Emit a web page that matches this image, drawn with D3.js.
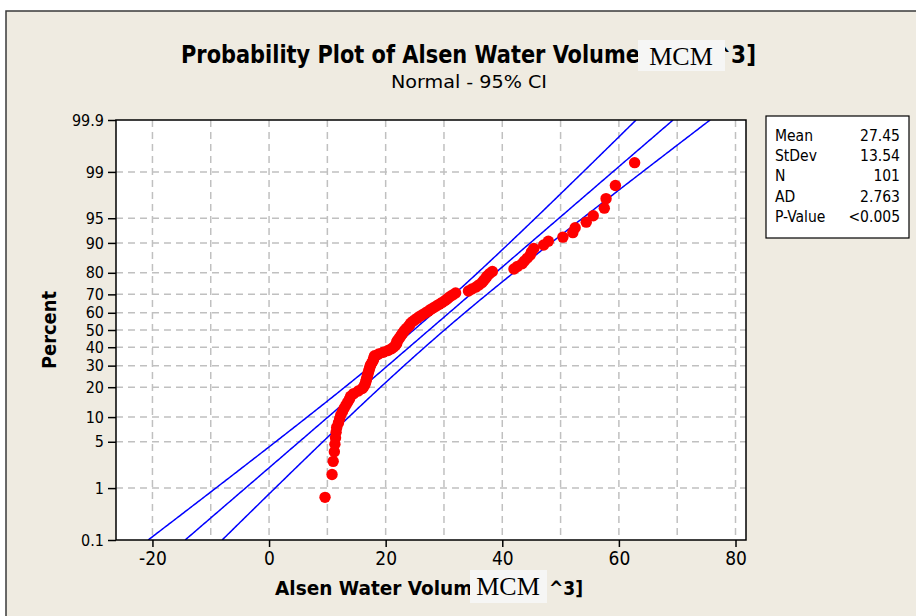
<!DOCTYPE html>
<html>
<head>
<meta charset="utf-8">
<script src="https://cdn.jsdelivr.net/npm/d3@7"></script>
<style>
body { margin: 0; background: #fff; }
svg { display: block; }
text { font-family: 'DejaVu Sans', sans-serif; font-stretch: condensed; fill: #000; }
</style>
</head>
<body>
<svg id="chart" width="916" height="616"></svg>
<script>
const volumes = [
  9.6, 10.8, 11.0, 11.2, 11.3, 11.4, 11.5, 11.6, 11.9, 12.1,
  12.3, 12.6, 12.9, 13.2, 13.5, 13.8, 14.0, 14.5, 15.3, 16.0,
  16.3, 16.5, 16.6, 16.7, 16.8, 16.9, 17.0, 17.1, 17.2, 17.3,
  17.4, 17.6, 17.8, 17.9, 18.0, 18.1, 18.8, 19.6, 20.4, 21.0,
  21.4, 21.7, 21.9, 21.9, 22.1, 22.3, 22.5, 22.7, 22.9, 23.1,
  23.3, 23.6, 23.9, 24.1, 24.3, 24.6, 25.0, 25.4, 25.8, 26.3,
  26.8, 27.3, 27.7, 28.2, 28.7, 29.2, 29.7, 30.2, 30.6, 31.0,
  31.5, 32.0, 34.2, 34.8, 35.5, 36.0, 36.5, 36.8, 37.1, 37.4,
  37.8, 38.3, 42.0, 42.6, 43.4, 43.8, 44.3, 44.8, 45.0, 45.4,
  47.1, 47.9, 50.4, 52.1, 52.5, 54.4, 55.6, 57.5, 57.8, 59.4,
  62.7
];
const xTicks = [-20, 0, 20, 40, 60, 80];
const xGrid = [-20, -10, 0, 10, 20, 30, 40, 50, 60, 70, 80];
const percentTicks = [0.1, 1, 5, 10, 20, 30, 40, 50, 60, 70, 80, 90, 95, 99, 99.9];
const statLabels = ["Mean", "StDev", "N", "AD", "P-Value"];
const statValues = ["27.45", "13.54", "101", "2.763", "<0.005"];
const mean = 27.45, stdev = 13.54, n = 101;

// inverse standard normal (Acklam)
function probit(p) {
  const a = [-39.69683028665376, 220.9460984245205, -275.9285104469687, 138.3577518672690, -30.66479806614716, 2.506628277459239];
  const b = [-54.47609879822406, 161.5858368580409, -155.6989798598866, 66.80131188771972, -13.28068155288572];
  const c = [-0.007784894002430293, -0.3223964580411365, -2.400758277161838, -2.549732539343734, 4.374664141464968, 2.938163982698783];
  const d = [0.007784695709041462, 0.3224671290700398, 2.445134137142996, 3.754408661907416];
  const pl = 0.02425;
  let q, r;
  if (p < pl) {
    q = Math.sqrt(-2 * Math.log(p));
    return (((((c[0]*q+c[1])*q+c[2])*q+c[3])*q+c[4])*q+c[5]) / ((((d[0]*q+d[1])*q+d[2])*q+d[3])*q+1);
  } else if (p <= 1 - pl) {
    q = p - 0.5; r = q * q;
    return (((((a[0]*r+a[1])*r+a[2])*r+a[3])*r+a[4])*r+a[5])*q / (((((b[0]*r+b[1])*r+b[2])*r+b[3])*r+b[4])*r+1);
  } else {
    q = Math.sqrt(-2 * Math.log(1 - p));
    return -(((((c[0]*q+c[1])*q+c[2])*q+c[3])*q+c[4])*q+c[5]) / ((((d[0]*q+d[1])*q+d[2])*q+d[3])*q+1);
  }
}

const svg = d3.select("#chart");
const plot = {left: 116, right: 746, top: 120, bottom: 540};
const zMax = probit(0.999);

const x = d3.scaleLinear().domain([-26.25, 81.8]).range([plot.left, plot.right]);
const y = d3.scaleLinear().domain([-zMax, zMax]).range([plot.bottom, plot.top]);

// outer frame
svg.append("rect")
  .attr("x", 6).attr("y", 11).attr("width", 940).attr("height", 640)
  .attr("fill", "#efebe1").attr("stroke", "#3a3a3a").attr("stroke-width", 1.5);

// plot background
svg.append("rect")
  .attr("x", plot.left).attr("y", plot.top)
  .attr("width", plot.right - plot.left).attr("height", plot.bottom - plot.top)
  .attr("fill", "#fff");

svg.append("clipPath").attr("id", "clip")
  .append("rect")
  .attr("x", plot.left).attr("y", plot.top)
  .attr("width", plot.right - plot.left).attr("height", plot.bottom - plot.top);

// grid
const grid = svg.append("g").attr("stroke", "#c0c0c0").attr("stroke-width", 1.5).attr("stroke-dasharray", "7,5");
grid.selectAll(".vg").data(xGrid).join("line")
  .attr("x1", d => x(d)).attr("x2", d => x(d))
  .attr("y1", plot.top).attr("y2", plot.bottom);
grid.selectAll(".hg").data(percentTicks.filter(p => p > 0.1 && p < 99.9)).join("line")
  .attr("x1", plot.left).attr("x2", plot.right)
  .attr("y1", d => y(probit(d / 100))).attr("y2", d => y(probit(d / 100)));

// fitted line and 95% CI
const zs = d3.range(-zMax, zMax + 0.0001, 0.02).concat([zMax]);
const se = z => stdev * Math.sqrt(1 / n + z * z / (2 * n));
const line = d3.line().x(d => x(d[0])).y(d => y(d[1]));
const curves = [
  zs.map(z => [mean + stdev * z, z]),
  zs.map(z => [mean + stdev * z - 1.96 * se(z), z]),
  zs.map(z => [mean + stdev * z + 1.96 * se(z), z])
];
svg.append("g").attr("clip-path", "url(#clip)")
  .selectAll("path").data(curves).join("path")
  .attr("d", line).attr("fill", "none").attr("stroke", "#0000ff").attr("stroke-width", 1.5);

// data points
svg.append("g").selectAll("circle").data(volumes).join("circle")
  .attr("cx", d => x(d))
  .attr("cy", (d, i) => y(probit((i + 1 - 0.3) / (n + 0.4))))
  .attr("r", 5.7)
  .attr("fill", "#ff0000");

// plot border
svg.append("rect")
  .attr("x", plot.left).attr("y", plot.top)
  .attr("width", plot.right - plot.left).attr("height", plot.bottom - plot.top)
  .attr("fill", "none").attr("stroke", "#000").attr("stroke-width", 1.5);

// axes
const xAxis = d3.axisBottom(x).tickValues(xTicks).tickFormat(d => String(d))
  .tickSize(7).tickSizeOuter(0).tickPadding(5);
const gx = svg.append("g").attr("transform", `translate(0,${plot.bottom})`).call(xAxis);
gx.select(".domain").remove();
gx.selectAll("line").attr("stroke", "#000").attr("stroke-width", 1.5);
gx.selectAll("text").attr("font-size", "19px").attr("font-family", null);

const yAxis = d3.axisLeft(y).tickValues(percentTicks.map(p => probit(p / 100)))
  .tickFormat((d, i) => percentTicks[i]).tickSize(8).tickSizeOuter(0).tickPadding(4);
const gy = svg.append("g").attr("transform", `translate(${plot.left},0)`).call(yAxis);
gy.select(".domain").remove();
gy.selectAll("line").attr("stroke", "#000").attr("stroke-width", 1.5);
gy.selectAll("text").attr("font-size", "16px").attr("font-family", null);

// titles
svg.append("text").attr("x", 181).attr("y", 63)
  .attr("font-size", "24px").attr("font-weight", "bold")
  .attr("textLength", 459).attr("lengthAdjust", "spacingAndGlyphs")
  .text("Probability Plot of Alsen Water Volume");
svg.append("text").attr("x", 756).attr("y", 63).attr("text-anchor", "end")
  .attr("font-size", "24px").attr("font-weight", "bold").text("^3]");
svg.append("rect").attr("x", 638).attr("y", 40).attr("width", 87).attr("height", 31).attr("fill", "#f6f6f5");
svg.append("text").attr("x", 681).attr("y", 65).attr("text-anchor", "middle")
  .style("font-family", "'Liberation Serif', serif").style("font-stretch", "normal")
  .attr("font-size", "26px").text("MCM");

svg.append("text").attr("x", 469).attr("y", 88).attr("text-anchor", "middle")
  .attr("font-size", "18px").attr("textLength", 156).attr("lengthAdjust", "spacingAndGlyphs")
  .text("Normal - 95% CI");

svg.append("text").attr("x", 275).attr("y", 595)
  .attr("font-size", "19px").attr("font-weight", "bold")
  .attr("textLength", 210).attr("lengthAdjust", "spacingAndGlyphs")
  .text("Alsen Water Volume");
svg.append("text").attr("x", 583).attr("y", 595).attr("text-anchor", "end")
  .attr("font-size", "19px").attr("font-weight", "bold").text("^3]");
svg.append("rect").attr("x", 470).attr("y", 570).attr("width", 77).attr("height", 33).attr("fill", "#f6f6f5");
svg.append("text").attr("x", 508).attr("y", 595).attr("text-anchor", "middle")
  .style("font-family", "'Liberation Serif', serif").style("font-stretch", "normal")
  .attr("font-size", "26px").text("MCM");

svg.append("text").attr("transform", "translate(56,330) rotate(-90)").attr("text-anchor", "middle")
  .attr("font-size", "20px").attr("font-weight", "bold")
  .attr("textLength", 78).attr("lengthAdjust", "spacingAndGlyphs").text("Percent");

// stats box
const legend = svg.append("g");
legend.append("rect").attr("x", 766).attr("y", 116).attr("width", 143).attr("height", 122)
  .attr("fill", "#fff").attr("stroke", "#000").attr("stroke-width", 1.2);
legend.selectAll(".lab").data(statLabels).join("text")
  .attr("x", 775).attr("y", (d, i) => 141 + i * 20.2).attr("font-size", "15.5px").text(d => d);
legend.selectAll(".val").data(statValues).join("text")
  .attr("x", 900).attr("y", (d, i) => 141 + i * 20.2).attr("text-anchor", "end")
  .attr("font-size", "15.5px").text(d => d);
</script>
</body>
</html>
